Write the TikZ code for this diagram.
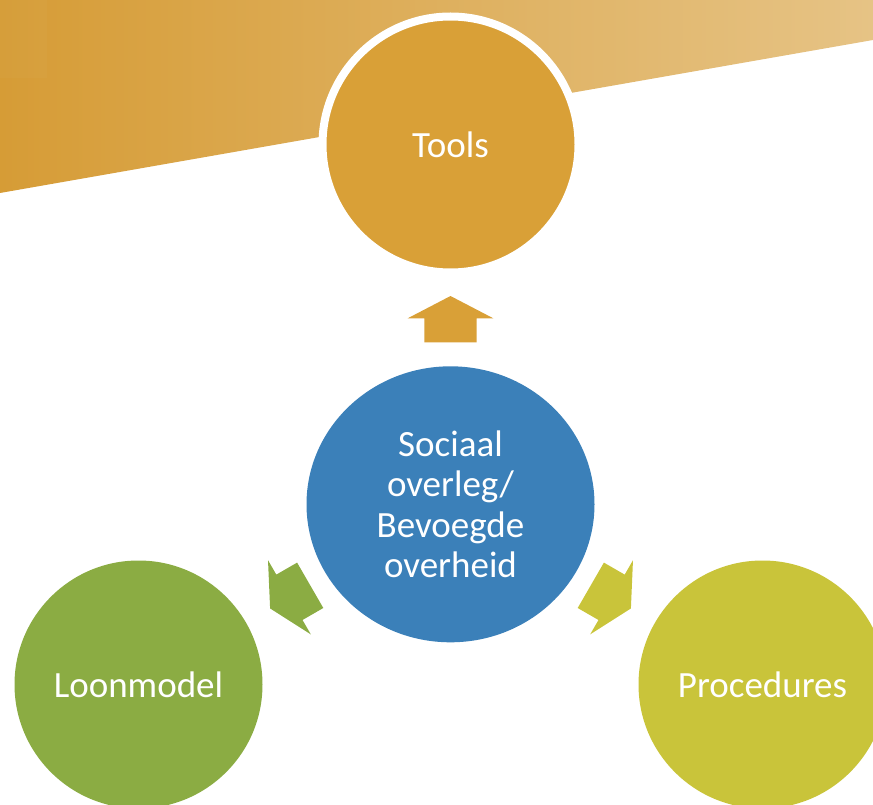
\documentclass[tikz,border=0pt]{standalone}
\usepackage{fontspec}
\setmainfont{Carlito}
\usetikzlibrary{shapes.geometric}

\definecolor{toolsc}{HTML}{D9A037}
\definecolor{overlegc}{HTML}{3B80B9}
\definecolor{loonc}{HTML}{8BAC43}
\definecolor{procc}{HTML}{C9C43A}
\definecolor{bannerl}{HTML}{D69C36}
\definecolor{bannerr}{HTML}{E6C385}

\tikzset{
  x=1pt, y=-1pt,
  bubble/.style={circle, inner sep=0pt, text=white, align=center,
    font=\fontsize{37}{40.6}\selectfont},
  % block arrow pointing away from the centre, drawn upwards before rotation
  flowarrow/.pic={
    \fill[pic actions] (-26.2,-162) -- (-26.2,-186) -- (-42.8,-186) -- (0,-208.3)
      -- (42.8,-186) -- (26.2,-186) -- (26.2,-162) -- cycle;
  }
}

\begin{document}
\begin{tikzpicture}
\useasboundingbox (0,0) rectangle (873,805);
\clip (0,0) rectangle (873,805);

% sloping banner across the top
\shade[left color=bannerl, right color=bannerr]
  (0,0) -- (873,0) -- (873,40) -- (0,193) -- cycle;
\fill[white, opacity=0.025] (0,0) rectangle (47,78);

% centre
\node[ellipse, inner sep=0pt, minimum width=288pt, minimum height=276pt,
      fill=overlegc, text=white, align=center,
      font=\fontsize{37}{40.6}\selectfont] (overleg) at (450.5,504.3)
  {Sociaal\\overleg/\\Bevoegde\\overheid};

% outer bubbles
\node[bubble, minimum size=256pt, fill=toolsc, draw=white, line width=8pt]
  (tools) at (450.5,144.5) {Tools};
\node[bubble, minimum size=248pt, fill=loonc] (loon) at (138.5,684.5) {Loonmodel};
\node[bubble, minimum size=248pt, fill=procc] (proc) at (762.5,684.5) {Procedures};

% arrows from the centre to each bubble
\pic (toTools) [fill=toolsc] at (overleg.center) {flowarrow};
\pic (toLoon) [fill=loonc, rotate=120] at (overleg.center) {flowarrow};
\pic (toProc) [fill=procc, rotate=-120] at (overleg.center) {flowarrow};
\end{tikzpicture}
\end{document}
